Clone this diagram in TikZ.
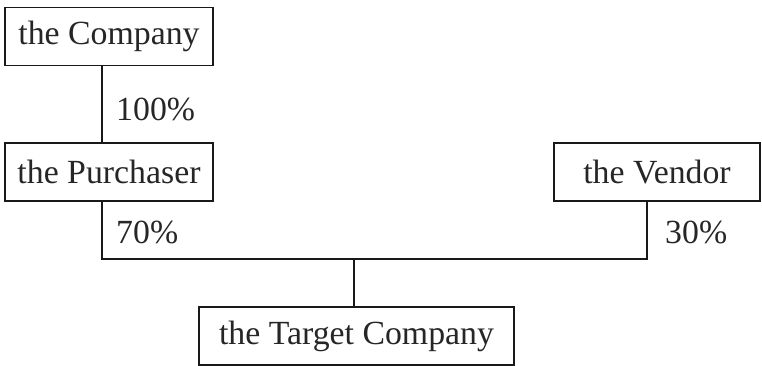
\documentclass[tikz,border=0pt]{standalone}
\usepackage{fontspec}
\setmainfont{Liberation Serif}
\begin{document}
\begin{tikzpicture}[x=1pt,y=-1pt,
  box/.style={draw=black!90,line width=1.7pt,rectangle,inner sep=0pt,
    font=\fontsize{33.8}{40}\selectfont,text=black!85},
  pct/.style={anchor=base west,inner sep=0pt,font=\fontsize{33.8}{40}\selectfont,text=black!85},
  conn/.style={draw=black!90,line width=1.7pt}]
\useasboundingbox (0,0) rectangle (762,366);
\node[box,minimum width=208pt,minimum height=58pt] (company) at (109,36.5) {the Company};
\node[box,minimum width=208pt,minimum height=58pt] (purch) at (109,172) {the Purchaser};
\node[box,minimum width=206pt,minimum height=58pt] (vendor) at (657,172) {the Vendor};
\node[box,minimum width=315pt,minimum height=58pt] (target) at (356.5,336) {the Target Company};
\coordinate (pj) at (102,259);
\coordinate (vj) at (647,259);
\coordinate (tj) at (354,259);
\draw[conn] (company.south -| pj) -- (purch.north -| pj);
\draw[conn] (purch.south -| pj) -- (pj) -- (vj) -- (vendor.south -| vj);
\draw[conn] (tj) -- (target.north -| tj);
\node[pct] (l100) at (116,121) {100\%};
\node[pct] (l70) at (116,243) {70\%};
\node[pct] (l30) at (665,243) {30\%};
\end{tikzpicture}
\end{document}
